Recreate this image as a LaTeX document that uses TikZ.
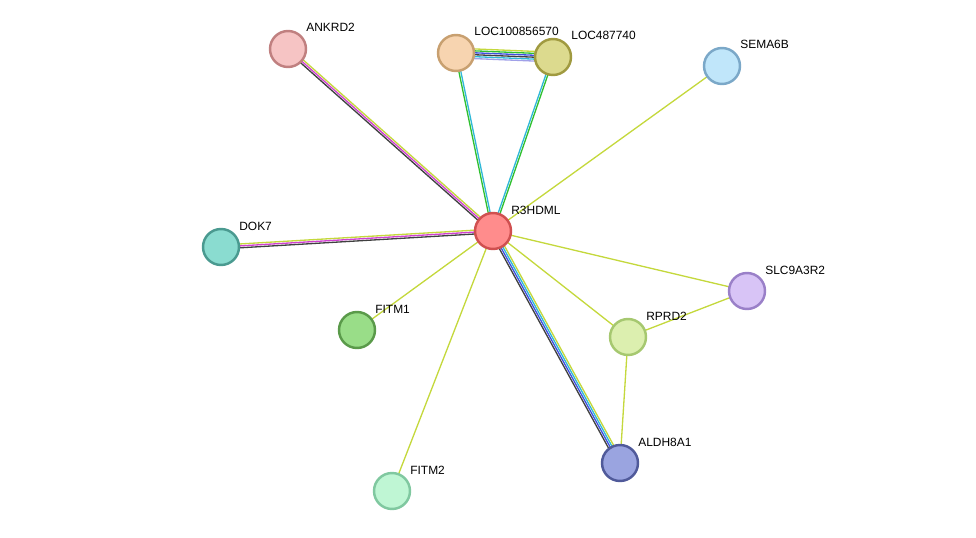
\documentclass[tikz,border=0pt]{standalone}
\usepackage{fontspec}
\setmainfont{Liberation Sans}
\usetikzlibrary{calc}
\pgfdeclarelayer{bg}
\pgfsetlayers{bg,main}
\definecolor{tm}{HTML}{C4D83C}
\definecolor{ex}{HTML}{D040D0}
\definecolor{co}{HTML}{404040}
\definecolor{db}{HTML}{30B8D8}
\definecolor{nb}{HTML}{30C030}
\definecolor{oc}{HTML}{4050E0}
\definecolor{hm}{HTML}{A0A0E8}
\tikzset{
 prot/.style={circle,draw,line width=1.4pt,minimum size=0.72cm,inner sep=0pt},
 lbl/.style={anchor=base west,font=\fontsize{6.8pt}{8pt}\selectfont,inner sep=0pt},
 ln/.style={line width=0.75pt}
}
\newcommand{\edgeml}[3]{%
 \foreach \c [count=\i] in {#3} {\xdef\nn{\i}}%
 \foreach \c [count=\i] in {#3} {%
  \pgfmathsetmacro{\off}{(\i-(\nn+1)/2)*1.1}%
  \draw[ln,\c] ($(#1)!\off pt!90:(#2)$) -- ($(#2)!\off pt!-90:(#1)$);}}
\begin{document}
\begin{tikzpicture}[x=0.02cm,y=-0.02cm]
\useasboundingbox (0,0) rectangle (976,537);
\newcommand{\prot}[5]{\definecolor{f#1}{HTML}{#4}\definecolor{d#1}{HTML}{#5}%
 \node[prot,fill=f#1,draw=d#1] (#1) at (#2,#3) {};
 \node[lbl] (#1l) at (#2+18,#3-17) {#1};}
\prot{R3HDML}{493}{231}{FF8C8C}{D05050}
\prot{ANKRD2}{288}{49}{F6C4C4}{C08080}
\prot{LOC100856570}{456}{53}{F7D4B0}{C8A070}
\prot{LOC487740}{553}{57}{DCDA8E}{A09A40}
\prot{SEMA6B}{722}{66}{C0E6FA}{7BA8C8}
\prot{DOK7}{221}{247}{8ADCD0}{4A9A90}
\prot{FITM1}{357}{330}{99DD88}{5A9A4A}
\prot{SLC9A3R2}{747}{291}{D8C4F6}{9A80C8}
\prot{RPRD2}{628}{337}{DCEFAF}{A6C870}
\prot{ALDH8A1}{620}{463}{9AA4E0}{505A9A}
\prot{FITM2}{392}{491}{BFF6D4}{80C8A0}
\begin{pgfonlayer}{bg}
\edgeml{R3HDML}{ANKRD2}{tm,ex,co}
\edgeml{R3HDML}{DOK7}{tm,ex,co}
\edgeml{R3HDML}{LOC100856570}{db,nb}
\edgeml{R3HDML}{LOC487740}{nb,db}
\edgeml{LOC100856570}{LOC487740}{hm,db,co,oc,nb,tm}
\edgeml{R3HDML}{ALDH8A1}{co,oc,db,tm}
\edgeml{R3HDML}{SEMA6B}{tm}
\edgeml{R3HDML}{FITM1}{tm}
\edgeml{R3HDML}{FITM2}{tm}
\edgeml{R3HDML}{SLC9A3R2}{tm}
\edgeml{R3HDML}{RPRD2}{tm}
\edgeml{RPRD2}{SLC9A3R2}{tm}
\edgeml{RPRD2}{ALDH8A1}{tm}
\end{pgfonlayer}
\end{tikzpicture}
\end{document}
